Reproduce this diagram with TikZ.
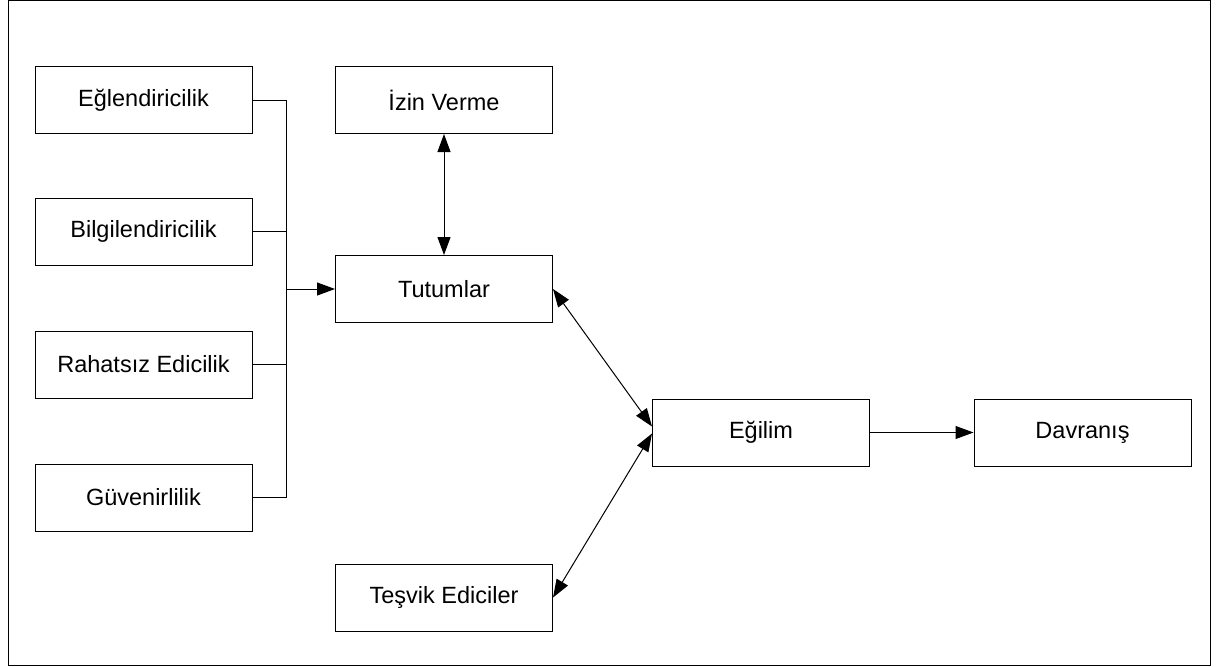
\documentclass[tikz,border=0pt]{standalone}
\usepackage{fontspec}
\setmainfont{Liberation Sans}
\usetikzlibrary{arrows.meta}
\begin{document}
\begin{tikzpicture}[x=1pt,y=-1pt,
  box/.style={draw=black,line width=1pt,minimum width=217pt,minimum height=67pt,inner sep=0pt,font=\fontsize{23.5}{26}\selectfont},
  conn/.style={draw=black,line width=1pt},
  tip/.style={-{Triangle[length=18pt,width=13pt]}},
  tips/.style={{Triangle[length=18pt,width=13pt]}-{Triangle[length=18pt,width=13pt]}}]
\useasboundingbox (0,0) rectangle (1219,667);
\draw[line width=1pt] (8,0.5) rectangle (1210,665);
\node[box] (e1) at (143.5,100) {Eğlendiricilik};
\node[box] (e2) at (143.5,231.5) {Bilgilendiricilik};
\node[box] (e3) at (143.5,364.5) {Rahatsız Edicilik};
\node[box] (e4) at (143.5,497.5) {Güvenirlilik};
\node[box] (izin) at (444,100) {İzin Verme};
\node[box] (tut) at (444,289) {Tutumlar};
\node[box] (tes) at (444,597.5) {Teşvik Ediciler};
\node[box] (egi) at (761,432.5) {Eğilim};
\node[box] (dav) at (1082.5,432.5) {Davranış};
\coordinate (bx) at (286,0);
\draw[conn] (e1.east) -- (e1.east -| bx) -- (e4.east -| bx) -- (e4.east);
\draw[conn] (e2.east) -- (e2.east -| bx);
\draw[conn] (e3.east) -- (e3.east -| bx);
\draw[conn,tip] (tut.west -| bx) -- (tut.west);
\draw[conn,tips] (izin.south) -- (tut.north);
\draw[conn,tips] (tut.east) -- ([yshift=6pt]egi.west);
\draw[conn,tips] (tes.east) -- ([yshift=-1pt]egi.west);
\draw[conn,tip] (egi.east) -- (dav.west);
\end{tikzpicture}
\end{document}
